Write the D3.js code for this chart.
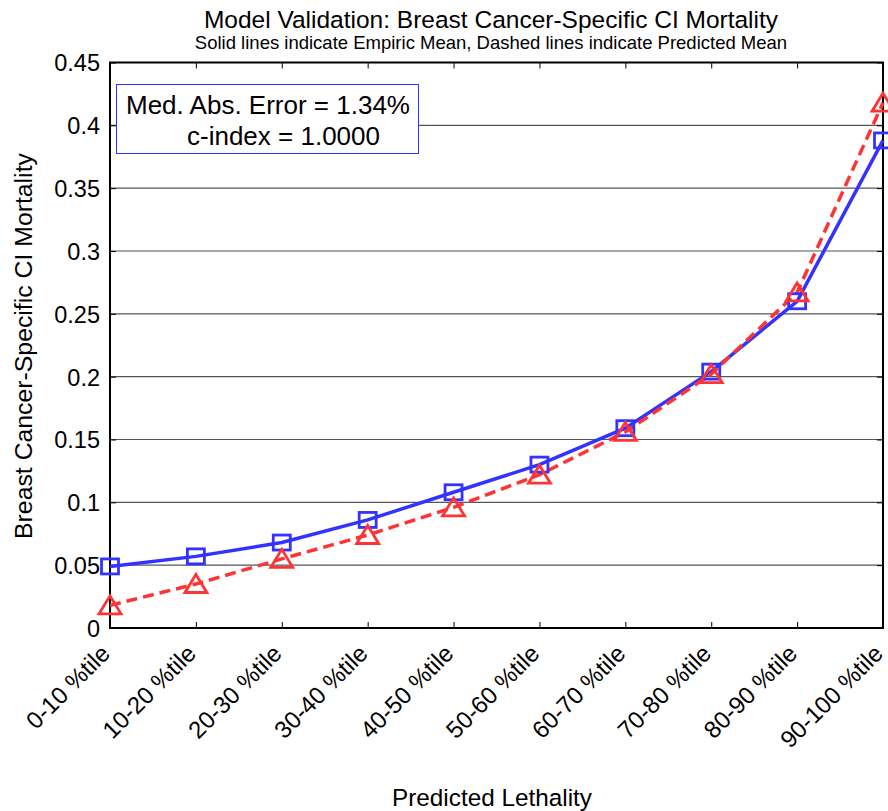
<!DOCTYPE html>
<html lang="en">
<head>
<meta charset="UTF-8">
<title>Model Validation</title>
<script src="https://cdnjs.cloudflare.com/ajax/libs/d3/7.9.0/d3.min.js"></script>
<style>
  body { margin: 0; background: white; }
  svg { font-family: "Liberation Sans", Arial, sans-serif; }
</style>
</head>
<body>
<svg width="888" height="811"></svg>
<script>
// data
const categories = ["0-10 %tile", "10-20 %tile", "20-30 %tile", "30-40 %tile", "40-50 %tile",
                    "50-60 %tile", "60-70 %tile", "70-80 %tile", "80-90 %tile", "90-100 %tile"];
const empiricMean = [0.049, 0.057, 0.068, 0.086, 0.108, 0.130, 0.159, 0.204, 0.260, 0.388];
const predictedMean = [0.018, 0.035, 0.055, 0.074, 0.096, 0.122, 0.156, 0.202, 0.267, 0.418];
const yTicks = [0, 0.05, 0.1, 0.15, 0.2, 0.25, 0.3, 0.35, 0.4, 0.45];

const svg = d3.select("svg");
const plotL = 110, plotR = 883, plotT = 62.5, plotB = 628;

const x = d3.scalePoint().domain(categories).range([plotL, plotR]);
const y = d3.scaleLinear().domain([0, 0.45]).range([plotB, plotT]);

// grid
svg.append("g").selectAll("line")
  .data(yTicks.slice(1, -1))
  .join("line")
  .attr("x1", plotL).attr("x2", plotR)
  .attr("y1", d => y(d)).attr("y2", d => y(d))
  .attr("stroke", "#555").attr("stroke-width", 1.2);

// axes with inward ticks
const fmt = d => d === 0 ? "0" : String(+d.toFixed(2));
svg.append("g").attr("transform", `translate(${plotL},0)`)
  .call(d3.axisLeft(y).tickValues(yTicks).tickSizeInner(-6).tickSizeOuter(0).tickFormat(fmt))
  .call(g => g.select(".domain").remove())
  .call(g => g.selectAll("text")
    .attr("font-size", 23.5).attr("fill", "#000")
    .attr("x", -10).attr("dy", "0.36em"));
svg.append("g").attr("transform", `translate(${plotR},0)`)
  .call(d3.axisRight(y).tickValues(yTicks).tickSizeInner(-6).tickSizeOuter(0).tickFormat(""))
  .call(g => g.select(".domain").remove());
svg.append("g").attr("transform", `translate(0,${plotB})`)
  .call(d3.axisBottom(x).tickSizeInner(-6).tickSizeOuter(0).tickPadding(0))
  .call(g => g.select(".domain").remove())
  .call(g => g.selectAll("text")
    .attr("font-size", 24).attr("fill", "#000")
    .attr("text-anchor", "end")
    .attr("y", 0).attr("dy", 0)
    .attr("transform", "translate(1,27) rotate(-45)"));
svg.append("g").attr("transform", `translate(0,${plotT})`)
  .call(d3.axisTop(x).tickSizeInner(-6).tickSizeOuter(0).tickFormat(""))
  .call(g => g.select(".domain").remove());

svg.append("rect")
  .attr("x", plotL).attr("y", plotT)
  .attr("width", plotR - plotL).attr("height", plotB - plotT)
  .attr("fill", "none").attr("stroke", "#000").attr("stroke-width", 2);

// series
const line = d3.line().x((d, i) => x(categories[i])).y(d => y(d));
const blue = "#3333ff", red = "#ff3333";

svg.append("path").datum(empiricMean)
  .attr("d", line).attr("fill", "none")
  .attr("stroke", blue).attr("stroke-width", 3.5);
svg.append("path").datum(predictedMean)
  .attr("d", line).attr("fill", "none")
  .attr("stroke", red).attr("stroke-width", 3.5).attr("stroke-dasharray", "11,6");

svg.append("g").selectAll("rect")
  .data(empiricMean)
  .join("rect")
  .attr("x", (d, i) => x(categories[i]) - 8.5)
  .attr("y", d => y(d) - 7.5)
  .attr("width", 17).attr("height", 15)
  .attr("fill", "none").attr("stroke", blue).attr("stroke-width", 2.8);

// wide triangle marker
const triPath = "M0,-9.5L11,8.5L-11,8.5Z";
svg.append("g").selectAll("path")
  .data(predictedMean)
  .join("path")
  .attr("d", triPath)
  .attr("transform", (d, i) => `translate(${x(categories[i])},${y(d)})`)
  .attr("fill", "none").attr("stroke", red).attr("stroke-width", 2.8);

// annotation box
svg.append("rect")
  .attr("x", 116.5).attr("y", 84.5).attr("width", 302).attr("height", 69)
  .attr("fill", "#fff").attr("stroke", "#3333ff").attr("stroke-width", 1);

function label(px, py, size, anchor, str) {
  return svg.append("text")
    .attr("x", px).attr("y", py)
    .attr("text-anchor", anchor)
    .attr("font-size", size).attr("fill", "#000").text(str);
}
label(126, 114, 26, "start", "Med. Abs. Error = 1.34%");
label(187, 145, 26, "start", "c-index = 1.0000");

// titles
label(491, 28, 24.5, "middle", "Model Validation: Breast Cancer-Specific CI Mortality");
label(491, 49, 18.5, "middle", "Solid lines indicate Empiric Mean, Dashed lines indicate Predicted Mean");
label(492, 806, 24.3, "middle", "Predicted Lethality");
svg.append("text")
  .attr("transform", "translate(32,346) rotate(-90)")
  .attr("text-anchor", "middle")
  .attr("font-size", 24.8).text("Breast Cancer-Specific CI Mortality");
</script>
</body>
</html>
